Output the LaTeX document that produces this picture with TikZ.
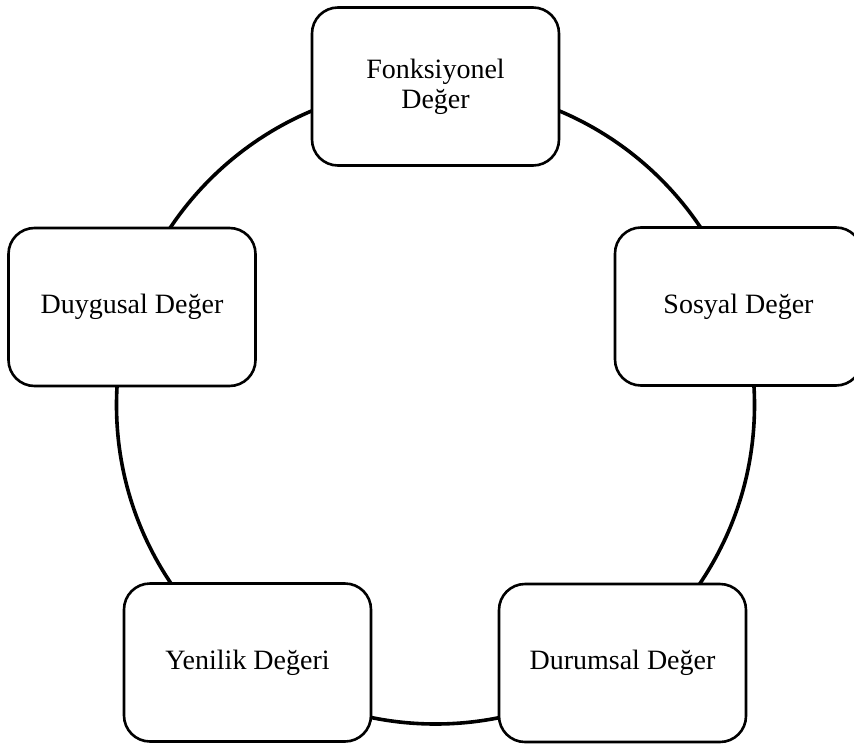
\documentclass[tikz,border=0pt]{standalone}
\usepackage{fontspec}
\setmainfont{Liberation Serif}
\begin{document}
\begin{tikzpicture}[x=1pt,y=-1pt,
  valbox/.style={draw=black, line width=2.6pt, fill=white, rounded corners=26pt,
    minimum width=247pt, minimum height=158pt, inner sep=0pt, align=center,
    font=\fontsize{28}{30}\selectfont}]
\useasboundingbox (0,0) rectangle (854,744);
\clip (0,0) rectangle (854,744);
\coordinate (c) at (435.5,405);
\draw[line width=3.6pt] (c) circle[radius=319pt];
\node[valbox] (fonk) at (435.5,86.5) {Fonksiyonel\\Değer};
\node[valbox] (sos) at (738.5,306.5) {Sosyal Değer};
\node[valbox] (duy) at (132,307) {Duygusal Değer};
\node[valbox] (yen) at (247.5,662.5) {Yenilik Değeri};
\node[valbox] (dur) at (622.5,663) {Durumsal Değer};
\end{tikzpicture}
\end{document}
